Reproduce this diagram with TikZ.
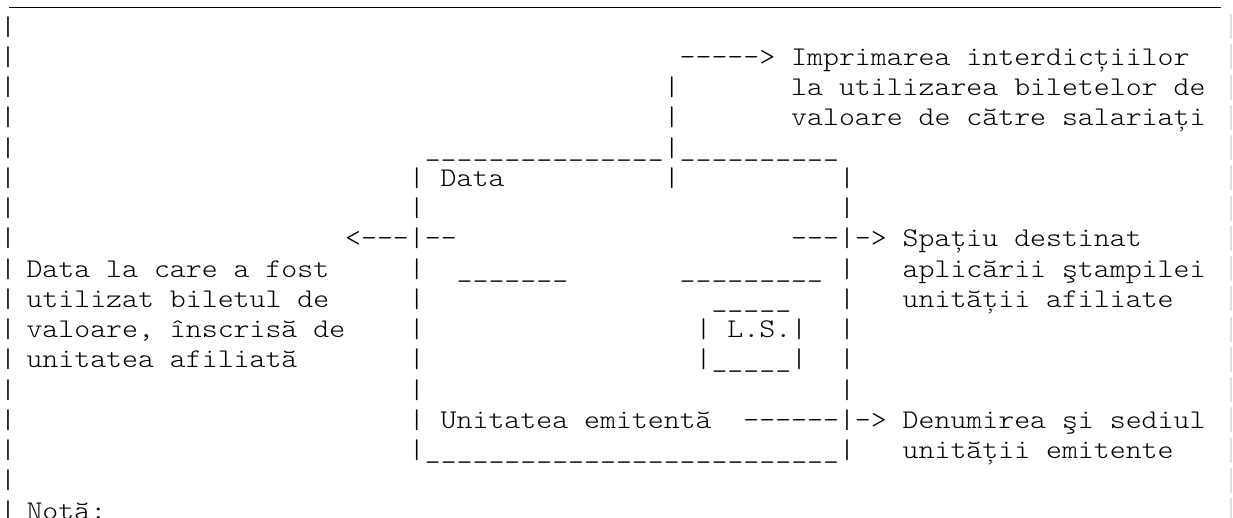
\documentclass[tikz,border=0pt]{standalone}
\usepackage{fontspec}
\newfontfamily\asciifont[FakeStretch=1.124]{lmmonolt10-regular.otf}
\begin{document}
\begin{tikzpicture}[x=1pt,y=-1pt,
  txt/.style={anchor=base west,inner sep=0pt,outer sep=0pt,
    font=\asciifont\fontsize{27pt}{30pt}\selectfont,text=black},
  rule/.style={draw=black,line width=1.3pt},
  faint/.style={draw=black!12,line width=1.2pt}]
\newcommand\cellat[4]{\node[txt] (#1) at ({-5.3+#3*15.93},{4.75+#2*30.25}) {#4};}
\fill[white] (0,0) rectangle (1233,517);
\useasboundingbox (0,0) rectangle (1233,517);
% faint right border
\foreach \r in {1,...,17} {\draw[faint] (1231,{4.75+\r*30.25-21}) -- (1231,{4.75+\r*30.25+4});}
% row 0: top rule
\coordinate (topL) at (9,7.5);
\coordinate (topR) at (1221,7.5);
\draw[rule] (topL) -- (topR);
% left border
\foreach \r in {1,...,17} {\node[txt] (lb\r) at (0,{4.75+\r*30.25}) {|};}
% row 2-4
\cellat{arrTop}{2}{43}{-----> Imprimarea interdicțiilor}
\cellat{p3}{3}{42}{|}
\cellat{t3}{3}{50}{la utilizarea biletelor de}
\cellat{p4}{4}{42}{|}
\cellat{t4}{4}{50}{valoare de către salariați}
% row 5: box top
\cellat{boxtop}{5}{27}{\_\_\_\_\_\_\_\_\_\_\_\_\_\_\_|\_\_\_\_\_\_\_\_\_\_}
% row 6
\cellat{l6}{6}{26}{|}
\cellat{data}{6}{28}{Data}
\cellat{m6}{6}{42}{|}
\cellat{r6}{6}{53}{|}
% row 7
\cellat{l7}{7}{26}{|}
\cellat{r7}{7}{53}{|}
% row 8
\cellat{arrL}{8}{22}{<---|--}
\cellat{arrR}{8}{50}{---|->}
\cellat{t8}{8}{57}{Spațiu destinat}
% row 9
\cellat{d9}{9}{2}{Data la care a fost}
\cellat{l9}{9}{26}{|}
\cellat{u9a}{9}{29}{\_\_\_\_\_\_\_}
\cellat{u9b}{9}{43}{\_\_\_\_\_\_\_\_\_}
\cellat{r9}{9}{53}{|}
\cellat{t9}{9}{57}{aplicării ştampilei}
% row 10
\cellat{d10}{10}{2}{utilizat biletul de}
\cellat{l10}{10}{26}{|}
\cellat{ls0}{10}{45}{\_\_\_\_\_}
\cellat{r10}{10}{53}{|}
\cellat{t10}{10}{57}{unității afiliate}
% row 11
\cellat{d11}{11}{2}{valoare, înscrisă de}
\cellat{l11}{11}{26}{|}
\cellat{ls1a}{11}{44}{|}
\cellat{ls1b}{11}{46}{L.S.|}
\cellat{r11}{11}{53}{|}
% row 12
\cellat{d12}{12}{2}{unitatea afiliată}
\cellat{l12}{12}{26}{|}
\cellat{ls2}{12}{44}{|\_\_\_\_\_|}
\cellat{r12}{12}{53}{|}
% row 13
\cellat{l13}{13}{26}{|}
\cellat{r13}{13}{53}{|}
% row 14
\cellat{l14}{14}{26}{|}
\cellat{ue}{14}{28}{Unitatea emitentă}
\cellat{arrB}{14}{47}{------|->}
\cellat{t14}{14}{57}{Denumirea şi sediul}
% row 15
\cellat{boxbot}{15}{26}{|\_\_\_\_\_\_\_\_\_\_\_\_\_\_\_\_\_\_\_\_\_\_\_\_\_\_|}
\cellat{t15}{15}{57}{unității emitente}
% row 17
\cellat{nota}{17}{2}{Notă:}
\end{tikzpicture}
\end{document}
